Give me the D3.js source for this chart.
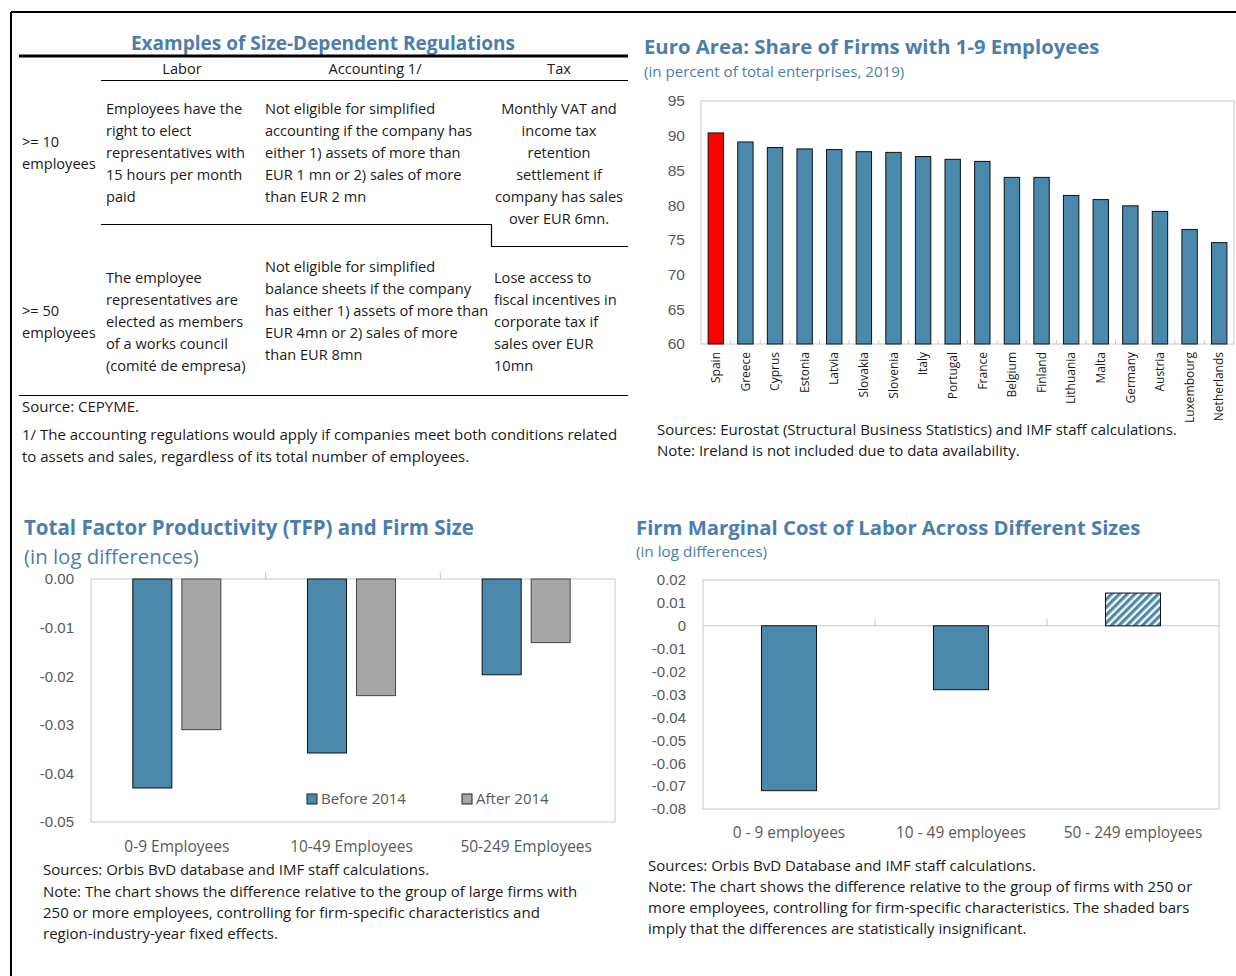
<!DOCTYPE html>
<html>
<head>
<meta charset="utf-8">
<script src="https://cdn.jsdelivr.net/npm/d3@7"></script>
<style>
  body { margin: 0; background: #fff; }
  svg { display: block; font-family: "Open Sans", "Noto Sans", sans-serif; }
</style>
</head>
<body>
<svg id="page" width="1236" height="976"></svg>
<script>
// ---- data ----
var countries = ["Spain", "Greece", "Cyprus", "Estonia", "Latvia", "Slovakia", "Slovenia", "Italy", "Portugal",
  "France", "Belgium", "Finland", "Lithuania", "Malta", "Germany", "Austria", "Luxembourg", "Netherlands"];
var shares = [90.4, 89.1, 88.3, 88.1, 88.0, 87.7, 87.6, 87.0, 86.6, 86.3, 84.0, 84.0, 81.4, 80.8, 79.9, 79.1, 76.5, 74.6];
var shareTicks = [60, 65, 70, 75, 80, 85, 90, 95];

var tfpGroups = ["0-9 Employees", "10-49 Employees", "50-249 Employees"];
var tfpSeries = ["Before 2014", "After 2014"];
var tfpBefore = [-0.043, -0.0358, -0.0197];
var tfpAfter = [-0.031, -0.024, -0.0131];
var tfpTicks = [0, -0.01, -0.02, -0.03, -0.04, -0.05];

var mclGroups = ["0 - 9 employees", "10 - 49 employees", "50 - 249 employees"];
var mclValues = [-0.072, -0.0279, 0.0143];
var mclSignificant = [true, true, false];
var mclTicks = [0.02, 0.01, 0, -0.01, -0.02, -0.03, -0.04, -0.05, -0.06, -0.07, -0.08];

var tableHeads = ["Labor", "Accounting 1/", "Tax"];
var rowLabels = [[">= 10", "employees"], [">= 50", "employees"]];
var laborCells = [
  ["Employees have the", "right to elect", "representatives with", "15 hours per month", "paid"],
  ["The employee", "representatives are", "elected as members", "of a works council", "(comité de empresa)"]
];
var accountingCells = [
  ["Not eligible for simplified", "accounting if the company has", "either 1) assets of more than", "EUR 1 mn or 2) sales of more", "than EUR 2 mn"],
  ["Not eligible for simplified", "balance sheets if the company", "has either 1) assets of more than", "EUR 4mn or 2) sales of more", "than EUR 8mn"]
];
var taxCells = [
  ["Monthly VAT and", "income tax", "retention", "settlement  if", "company has sales", "over EUR 6mn."],
  ["Lose access to", "fiscal incentives in", "corporate tax if", "sales over EUR", "10mn"]
];

// ---- styles ----
var titleBlue = "#4a7eae";
var barBlue = "#4a89ac";
var barGrey = "#a6a6a6";
var axisGrey = "#c8c8c8";
var labelGrey = "#595959";
var textDark = "#1a1a1a";
var cellSize = 14.6;
var noteSize = 15;

var svg = d3.select("#page");

// text helper: lines centred on y0 + i*lh
function lines(g, arr, x, y0, lh, opts) {
  opts = opts || {};
  g.append("g").selectAll("text")
    .data(arr)
    .enter()
    .append("text")
    .attr("x", x)
    .attr("y", function (d, i) { return y0 + i * lh; })
    .attr("dy", "0.35em")
    .attr("text-anchor", opts.anchor || "start")
    .style("font-size", (opts.size || 14) + "px")
    .style("font-weight", opts.weight || "normal")
    .style("fill", opts.color || textDark)
    .text(function (d) { return d; });
}

// page frame
svg.append("line").attr("x1", 11).attr("x2", 1236).attr("y1", 12).attr("y2", 12)
  .style("stroke", "#000").style("stroke-width", 2);
svg.append("line").attr("x1", 11).attr("x2", 11).attr("y1", 12).attr("y2", 976)
  .style("stroke", "#000").style("stroke-width", 2);

// ================= Table =================
var tbl = svg.append("g");
lines(tbl, ["Examples of Size-Dependent Regulations"], 323, 43, 0, { anchor: "middle", size: 19, weight: "bold", color: titleBlue });
tbl.append("line").attr("x1", 19).attr("x2", 628).attr("y1", 56).attr("y2", 56)
  .style("stroke", "#000").style("stroke-width", 3);
var headX = [182, 375, 559];
tableHeads.forEach(function (h, i) {
  lines(tbl, [h], headX[i], 69, 0, { anchor: "middle", size: cellSize });
});
tbl.append("line").attr("x1", 101).attr("x2", 628).attr("y1", 80.5).attr("y2", 80.5)
  .style("stroke", "#000").style("stroke-width", 1.2);

// row 1
lines(tbl, rowLabels[0], 22, 142, 22, { size: cellSize });
lines(tbl, laborCells[0], 106, 109, 22, { size: cellSize });
lines(tbl, accountingCells[0], 265, 109, 22, { size: cellSize });
lines(tbl, taxCells[0], 559, 109, 22, { size: cellSize, anchor: "middle" });
tbl.append("path")
  .attr("d", "M101,224.5H491.5V246.5H628")
  .style("fill", "none").style("stroke", "#000").style("stroke-width", 1.2);

// row 2
lines(tbl, rowLabels[1], 22, 311, 22, { size: cellSize });
lines(tbl, laborCells[1], 106, 278, 22, { size: cellSize });
lines(tbl, accountingCells[1], 265, 267, 22, { size: cellSize });
lines(tbl, taxCells[1], 494, 278, 22, { size: cellSize });
tbl.append("line").attr("x1", 19).attr("x2", 628).attr("y1", 395.5).attr("y2", 395.5)
  .style("stroke", "#000").style("stroke-width", 1.2);
lines(tbl, ["Source: CEPYME."], 22, 407, 0, { size: noteSize });
lines(tbl, ["1/ The accounting regulations would apply if companies meet both conditions related",
  "to assets and sales, regardless of its total number of employees."], 22, 435, 22, { size: noteSize });

// ================= Euro area share chart =================
(function () {
  var g = svg.append("g");
  lines(g, ["Euro Area: Share of Firms with 1-9 Employees"], 644, 47, 0, { size: 20.3, weight: "bold", color: titleBlue });
  lines(g, ["(in percent of total enterprises, 2019)"], 644, 72, 0, { size: 15.1, color: titleBlue });

  var x = d3.scaleBand().domain(countries).range([701, 1234]).paddingInner(0.48).paddingOuter(0.24);
  var y = d3.scaleLinear().domain([60, 95]).range([344, 101]);

  g.append("rect").attr("x", 701).attr("y", 101).attr("width", 1234 - 701).attr("height", 344 - 101)
    .style("fill", "none").style("stroke", axisGrey);

  var ya = g.append("g").attr("transform", "translate(701,0)")
    .call(d3.axisLeft(y).tickValues(shareTicks).tickSize(0).tickPadding(16));
  ya.select(".domain").remove();
  ya.selectAll("text").style("font-size", "15.5px").style("fill", labelGrey).style("font-family", "inherit");

  // category separators on the base line
  var step = x.step();
  g.append("g").selectAll("line")
    .data(countries.slice(1))
    .enter()
    .append("line")
    .attr("x1", function (d) { return x(d) - (step - x.bandwidth()) / 2; })
    .attr("x2", function (d) { return x(d) - (step - x.bandwidth()) / 2; })
    .attr("y1", 344).attr("y2", 340)
    .style("stroke", axisGrey);

  g.append("g").selectAll("rect")
    .data(countries)
    .enter()
    .append("rect")
    .attr("x", function (d) { return x(d); })
    .attr("width", x.bandwidth())
    .attr("y", function (d, i) { return y(shares[i]); })
    .attr("height", function (d, i) { return y(60) - y(shares[i]); })
    .style("fill", function (d) { return d === "Spain" ? "#ff0000" : barBlue; })
    .style("stroke", "#111").style("stroke-width", 1);

  g.append("g").selectAll("text")
    .data(countries)
    .enter()
    .append("text")
    .attr("transform", function (d) { return "translate(" + (x(d) + x.bandwidth() / 2) + ",352) rotate(-90)"; })
    .attr("dy", "0.35em")
    .attr("text-anchor", "end")
    .style("font-size", "12px")
    .style("fill", textDark)
    .text(function (d) { return d; });

  lines(g, ["Sources: Eurostat (Structural Business Statistics) and IMF staff calculations.",
    "Note: Ireland is not included due to data availability."], 657, 430, 21, { size: noteSize });
})();

// ================= TFP chart =================
(function () {
  var g = svg.append("g");
  lines(g, ["Total Factor Productivity (TFP) and Firm Size"], 24, 528, 0, { size: 20.5, weight: "bold", color: titleBlue });
  lines(g, ["(in log differences)"], 24, 557, 0, { size: 20.4, color: titleBlue });

  var left = 91, right = 615, top = 579, bottom = 822;
  var x0 = d3.scaleBand().domain(tfpGroups).range([left, right]).paddingInner(0.496).paddingOuter(0.248);
  var x1 = d3.scaleBand().domain(tfpSeries).range([0, x0.bandwidth()]).paddingInner(0.204);
  var y = d3.scaleLinear().domain([-0.05, 0]).range([bottom, top]);

  g.append("rect").attr("x", left).attr("y", top).attr("width", right - left).attr("height", bottom - top)
    .style("fill", "none").style("stroke", axisGrey);

  var ya = g.append("g").attr("transform", "translate(" + left + ",0)")
    .call(d3.axisLeft(y).tickValues(tfpTicks).tickSize(0).tickPadding(17).tickFormat(d3.format(".2f")));
  ya.select(".domain").remove();
  ya.selectAll("text").style("font-size", "15px").style("fill", labelGrey).style("font-family", "inherit")
    .text(function (d) { return d3.format(".2f")(d).replace("\u2212", "-"); });

  var step = x0.step();
  g.append("g").selectAll("line")
    .data(tfpGroups.slice(1))
    .enter()
    .append("line")
    .attr("x1", function (d) { return x0(d) - (step - x0.bandwidth()) / 2; })
    .attr("x2", function (d) { return x0(d) - (step - x0.bandwidth()) / 2; })
    .attr("y1", y(0)).attr("y2", y(0) - 7)
    .style("stroke", axisGrey);

  var seriesVals = [tfpBefore, tfpAfter];
  var seriesFill = [barBlue, barGrey];
  var seriesStroke = ["#111", "#444"];
  tfpSeries.forEach(function (s, si) {
    g.append("g").selectAll("rect")
      .data(tfpGroups)
      .enter()
      .append("rect")
      .attr("x", function (d) { return x0(d) + x1(s) - 1.5; })
      .attr("width", x1.bandwidth())
      .attr("y", y(0))
      .attr("height", function (d, i) { return y(seriesVals[si][i]) - y(0); })
      .style("fill", seriesFill[si])
      .style("stroke", seriesStroke[si]).style("stroke-width", 1);
  });

  // legend
  var legX = [307, 462];
  tfpSeries.forEach(function (s, si) {
    g.append("rect").attr("x", legX[si]).attr("y", 794).attr("width", 10).attr("height", 10)
      .style("fill", seriesFill[si]).style("stroke", "#222");
    lines(g, [s], legX[si] + 14, 799, 0, { size: 15, color: labelGrey });
  });

  g.append("g").selectAll("text")
    .data(tfpGroups)
    .enter()
    .append("text")
    .attr("x", function (d) { return x0(d) + x0.bandwidth() / 2 - 1.5; })
    .attr("y", 847).attr("dy", "0.35em")
    .attr("text-anchor", "middle")
    .style("font-size", "15.5px").style("fill", labelGrey)
    .text(function (d) { return d; });

  lines(g, ["Sources: Orbis BvD database and IMF staff calculations.",
    "Note: The chart shows the difference relative to the group of large firms with",
    "250 or more employees, controlling for firm-specific characteristics and",
    "region-industry-year fixed effects."], 43, 870, 21.4, { size: noteSize });
})();

// ================= Marginal cost chart =================
(function () {
  var g = svg.append("g");
  lines(g, ["Firm Marginal Cost of Labor Across Different Sizes"], 636, 528, 0, { size: 20.3, weight: "bold", color: titleBlue });
  lines(g, ["(in log differences)"], 636, 552, 0, { size: 15.3, color: titleBlue });

  var defs = svg.append("defs");
  var pat = defs.append("pattern").attr("id", "hatch").attr("patternUnits", "userSpaceOnUse")
    .attr("width", 5.5).attr("height", 5.5).attr("patternTransform", "rotate(45)");
  pat.append("rect").attr("width", 5.5).attr("height", 5.5).style("fill", "#fff");
  pat.append("rect").attr("width", 3.2).attr("height", 5.5).style("fill", barBlue);

  var left = 703, right = 1219, top = 580, bottom = 809;
  var x = d3.scaleBand().domain(mclGroups).range([left, right]).paddingInner(0.68).paddingOuter(0.34);
  var y = d3.scaleLinear().domain([-0.08, 0.02]).range([bottom, top]);

  g.append("rect").attr("x", left).attr("y", top).attr("width", right - left).attr("height", bottom - top)
    .style("fill", "none").style("stroke", axisGrey);
  g.append("line").attr("x1", left).attr("x2", right).attr("y1", y(0)).attr("y2", y(0))
    .style("stroke", axisGrey);

  var ya = g.append("g").attr("transform", "translate(" + left + ",0)")
    .call(d3.axisLeft(y).tickValues(mclTicks).tickSize(0).tickPadding(17));
  ya.select(".domain").remove();
  ya.selectAll("text").style("font-size", "15px").style("fill", labelGrey).style("font-family", "inherit")
    .text(function (d) { return d === 0 ? "0" : d3.format(".2f")(d).replace("\u2212", "-"); });

  var step = x.step();
  g.append("g").selectAll("line")
    .data(mclGroups.slice(1))
    .enter()
    .append("line")
    .attr("x1", function (d) { return x(d) - (step - x.bandwidth()) / 2; })
    .attr("x2", function (d) { return x(d) - (step - x.bandwidth()) / 2; })
    .attr("y1", y(0)).attr("y2", y(0) - 7)
    .style("stroke", axisGrey);

  g.append("g").selectAll("rect")
    .data(mclGroups)
    .enter()
    .append("rect")
    .attr("x", function (d) { return x(d); })
    .attr("width", x.bandwidth())
    .attr("y", function (d, i) { return y(Math.max(0, mclValues[i])); })
    .attr("height", function (d, i) { return Math.abs(y(mclValues[i]) - y(0)); })
    .style("fill", function (d, i) { return mclSignificant[i] ? barBlue : "url(#hatch)"; })
    .style("stroke", "#111").style("stroke-width", 1);

  g.append("g").selectAll("text")
    .data(mclGroups)
    .enter()
    .append("text")
    .attr("x", function (d) { return x(d) + x.bandwidth() / 2; })
    .attr("y", 833).attr("dy", "0.35em")
    .attr("text-anchor", "middle")
    .style("font-size", "15.4px").style("fill", labelGrey)
    .text(function (d) { return d; });

  lines(g, ["Sources: Orbis BvD Database and IMF staff calculations.",
    "Note: The chart shows the difference relative to the group of firms with 250 or",
    "more employees, controlling for firm-specific characteristics. The shaded bars",
    "imply that the differences are statistically insignificant."], 648, 866, 21, { size: noteSize });
})();
</script>
</body>
</html>
